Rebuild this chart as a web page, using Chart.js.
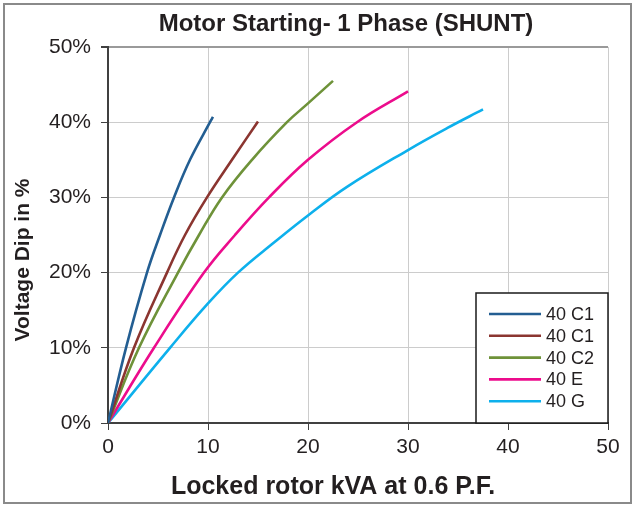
<!DOCTYPE html>
<html>
<head>
<meta charset="utf-8">
<script src="https://cdn.jsdelivr.net/npm/chart.js@4.4.1/dist/chart.umd.min.js"></script>
<style>
  html, body { margin: 0; padding: 0; background: #fff; }
  #wrap { width: 635px; height: 506px; position: relative; }
</style>
</head>
<body>
<div id="wrap"><canvas id="motorChart" width="635" height="506"></canvas></div>
<script>
// values (kVA vs % dip)
const seriesNames = ["40 C1", "40 C1", "40 C2", "40 E", "40 G"];
const c1aKva = [0, 1.8, 3.9, 5.2, 6.6, 8.2, 10.2, 10.5];
const c1aDip = [0, 10, 20, 25, 30, 35, 40, 40.7];
const c1bKva = [0, 2.6, 5.9, 7.7, 9.9, 12.4, 15.0];
const c1bDip = [0, 10, 20, 25, 30, 35, 40.1];
const c2Kva = [0, 3.1, 7.0, 9.1, 11.4, 14.4, 17.9, 20.0, 22.5];
const c2Dip = [0, 10, 20, 25, 30, 35, 40, 42.5, 45.5];
const eKva = [0, 4.6, 9.6, 12.7, 16.1, 20.0, 24.9, 30.0];
const eDip = [0, 10, 20, 25, 30, 35, 40, 44.1];
const gKva = [0, 6.2, 10.0, 13.0, 16.6, 20.0, 23.9, 30.0, 33.9, 37.5];
const gDip = [0, 10, 15.9, 20, 24.0, 27.6, 31.4, 36.3, 39.2, 41.7];
const xTicks = [0, 10, 20, 30, 40, 50];
const yTicks = [0, 10, 20, 30, 40, 50];

const colors = ["#235e92", "#8b3530", "#6e9239", "#ec0c8c", "#0db0ec"];
const FONT = "'Liberation Sans', Arial, sans-serif";

function pts(xs, ys) {
  return xs.map((x, i) => ({ x: x, y: ys[i] }));
}

const datasets = [
  pts(c1aKva, c1aDip),
  pts(c1bKva, c1bDip),
  pts(c2Kva, c2Dip),
  pts(eKva, eDip),
  pts(gKva, gDip),
].map((data, i) => ({
  label: seriesNames[i],
  data: data,
  borderColor: colors[i],
  backgroundColor: colors[i],
  borderWidth: 2.6,
  pointRadius: 0,
  showLine: true,
  tension: 0.4,
}));

// frame, titles and the boxed legend
const decor = {
  id: "decor",
  beforeDraw(chart) {
    const ctx = chart.ctx;
    ctx.save();
    ctx.fillStyle = "#fff";
    ctx.fillRect(0, 0, chart.width, chart.height);
    ctx.strokeStyle = "#8a8a8a";
    ctx.lineWidth = 2;
    ctx.strokeRect(4, 4, 627, 499);
    ctx.restore();
  },
  afterDraw(chart) {
    const ctx = chart.ctx;
    const area = chart.chartArea;
    ctx.save();
    ctx.fillStyle = "#231f20";
    ctx.textAlign = "center";
    ctx.textBaseline = "middle";
    ctx.font = "bold 24px " + FONT;
    ctx.fillText("Motor Starting- 1 Phase (SHUNT)", 346, 24);
    ctx.font = "bold 25px " + FONT;
    ctx.fillText("Locked rotor kVA at 0.6 P.F.", 333, 487);
    ctx.save();
    ctx.translate(23, 260);
    ctx.rotate(-Math.PI / 2);
    ctx.font = "bold 21px " + FONT;
    ctx.fillText("Voltage Dip in %", 0, 0);
    ctx.restore();

    // legend box in the lower right of the plot
    const bx = 476, by = 293, bw = area.right - 476, bh = area.bottom - 293;
    ctx.fillStyle = "#fff";
    ctx.fillRect(bx, by, bw, bh);
    ctx.strokeStyle = "#1a1a1a";
    ctx.lineWidth = 1.5;
    ctx.strokeRect(bx, by, bw, bh);
    ctx.font = "18px " + FONT;
    ctx.textAlign = "left";
    chart.data.datasets.forEach((ds, i) => {
      const y = 314 + i * 21.8;
      ctx.strokeStyle = ds.borderColor;
      ctx.lineWidth = 2.6;
      ctx.beginPath();
      ctx.moveTo(489, y);
      ctx.lineTo(541, y);
      ctx.stroke();
      ctx.fillStyle = "#231f20";
      ctx.fillText(ds.label, 546, y + 1);
    });
    ctx.restore();
  },
};

const ctx = document.getElementById("motorChart").getContext("2d");
new Chart(ctx, {
  type: "scatter",
  data: { datasets: datasets },
  options: {
    responsive: false,
    animation: false,
    layout: { padding: { left: 0, right: 27, top: 47, bottom: 0 } },
    plugins: {
      legend: { display: false },
      title: { display: false },
      tooltip: { enabled: false },
    },
    scales: {
      x: {
        type: "linear",
        min: 0,
        max: 50,
        afterBuildTicks: (axis) => {
          axis.ticks = xTicks.map((v) => ({ value: v }));
        },
        afterFit: (axis) => {
          axis.height = 83;
        },
        border: { color: "#404040", width: 2 },
        grid: {
          color: "#cccccc",
          lineWidth: 1,
          tickLength: 7,
          tickColor: "#404040",
        },
        ticks: {
          color: "#231f20",
          padding: 5,
          font: { family: FONT, size: 21 },
        },
      },
      y: {
        min: 0,
        max: 50,
        afterBuildTicks: (axis) => {
          axis.ticks = yTicks.map((v) => ({ value: v }));
        },
        afterFit: (axis) => {
          axis.width = 108;
        },
        border: { color: "#404040", width: 2 },
        grid: {
          color: (c) => (c.tick && c.tick.value === 50 ? "#9a9a9a" : "#cccccc"),
          lineWidth: (c) => (c.tick && c.tick.value === 50 ? 2 : 1),
          tickLength: 7,
          tickColor: "#404040",
        },
        ticks: {
          color: "#231f20",
          padding: 10,
          font: { family: FONT, size: 21 },
          callback: (v) => v + "%",
        },
      },
    },
  },
  plugins: [decor],
});
</script>
</body>
</html>
